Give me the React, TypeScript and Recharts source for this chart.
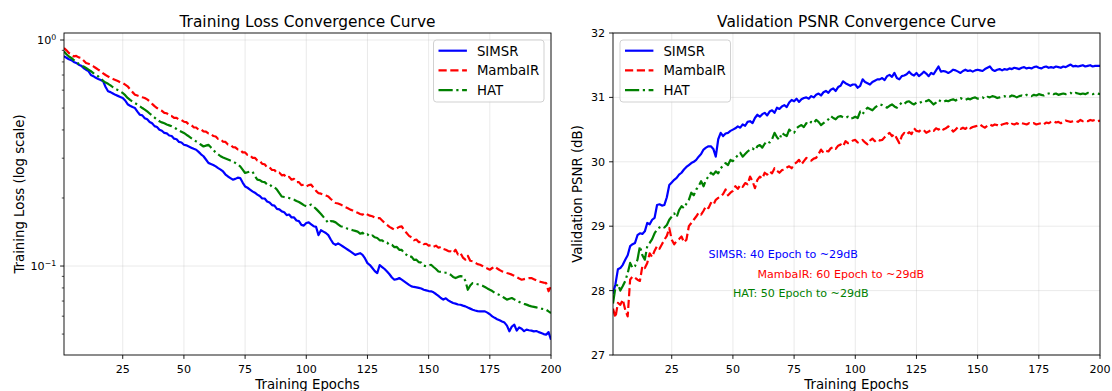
import React from 'react';
import { LineChart, Line, XAxis, YAxis, CartesianGrid, ReferenceDot } from 'recharts';

// ---------------- data ----------------
const epochs: number[] = Array.from({ length: 200 }, (_, i) => i + 1);

const simsrLoss = [
  0.847, 0.835, 0.822, 0.815, 0.800, 0.792, 0.778, 0.770, 0.752, 0.739,
  0.728, 0.700, 0.692, 0.680, 0.672, 0.665, 0.656, 0.620, 0.593, 0.588,
  0.580, 0.572, 0.566, 0.560, 0.554, 0.540, 0.520, 0.512, 0.505, 0.500,
  0.482, 0.467, 0.464, 0.451, 0.446, 0.434, 0.428, 0.416, 0.412, 0.401,
  0.397, 0.388, 0.386, 0.378, 0.376, 0.366, 0.364, 0.354, 0.352, 0.344,
  0.342, 0.338, 0.334, 0.330, 0.327, 0.320, 0.312, 0.306, 0.296, 0.286,
  0.283, 0.280, 0.276, 0.271, 0.267, 0.262, 0.254, 0.249, 0.245, 0.241,
  0.243, 0.246, 0.245, 0.234, 0.225, 0.222, 0.218, 0.214, 0.211, 0.207,
  0.204, 0.199, 0.199, 0.193, 0.191, 0.186, 0.185, 0.179, 0.178, 0.1745,
  0.173, 0.168, 0.169, 0.164, 0.164, 0.159, 0.158, 0.152, 0.151, 0.155,
  0.156, 0.153, 0.150, 0.149, 0.137, 0.144, 0.142, 0.140, 0.137, 0.131,
  0.126, 0.124, 0.126, 0.124, 0.122, 0.120, 0.118, 0.116, 0.114, 0.112,
  0.113, 0.114, 0.112, 0.108, 0.103, 0.101, 0.098, 0.095, 0.093, 0.101,
  0.099, 0.097, 0.0946, 0.092, 0.089, 0.087, 0.0875, 0.0885, 0.087, 0.0855,
  0.084, 0.0825, 0.0813, 0.0808, 0.0805, 0.0800, 0.0795, 0.0785, 0.0780, 0.0775,
  0.0773, 0.0765, 0.0752, 0.0738, 0.0722, 0.0710, 0.0720, 0.0705, 0.0695, 0.0686,
  0.0682, 0.0676, 0.0674, 0.0668, 0.0663, 0.0655, 0.0648, 0.0641, 0.0636, 0.0632,
  0.0630, 0.0631, 0.0630, 0.0622, 0.0612, 0.0599, 0.0590, 0.0582, 0.0575, 0.0568,
  0.0562, 0.0545, 0.0514, 0.0540, 0.0550, 0.0518, 0.0535, 0.0528, 0.0515, 0.0523,
  0.0520, 0.0518, 0.0514, 0.0516, 0.0510, 0.0505, 0.0500, 0.0497, 0.0510, 0.0472,
];

const mambaLoss = [
  0.922, 0.900, 0.876, 0.866, 0.847, 0.850, 0.838, 0.833, 0.812, 0.791,
  0.785, 0.778, 0.765, 0.752, 0.739, 0.728, 0.712, 0.700, 0.690, 0.679,
  0.672, 0.665, 0.658, 0.650, 0.645, 0.635, 0.624, 0.605, 0.588, 0.573,
  0.568, 0.563, 0.558, 0.554, 0.546, 0.535, 0.522, 0.510, 0.500, 0.492,
  0.486, 0.476, 0.474, 0.463, 0.461, 0.452, 0.452, 0.444, 0.443, 0.435,
  0.433, 0.423, 0.421, 0.411, 0.410, 0.401, 0.402, 0.394, 0.393, 0.386,
  0.385, 0.376, 0.374, 0.365, 0.364, 0.355, 0.354, 0.345, 0.344, 0.336,
  0.335, 0.328, 0.327, 0.318, 0.318, 0.310, 0.309, 0.301, 0.301, 0.293,
  0.292, 0.283, 0.282, 0.273, 0.273, 0.266, 0.266, 0.258, 0.259, 0.252,
  0.253, 0.246, 0.248, 0.241, 0.243, 0.235, 0.235, 0.228, 0.229, 0.225,
  0.228, 0.229, 0.222, 0.215, 0.210, 0.209, 0.207, 0.205, 0.203, 0.198,
  0.194, 0.190, 0.189, 0.187, 0.185, 0.182, 0.180, 0.1776, 0.176, 0.174,
  0.172, 0.170, 0.1688, 0.1716, 0.169, 0.167, 0.166, 0.164, 0.163, 0.163,
  0.159, 0.155, 0.152, 0.149, 0.147, 0.1448, 0.147, 0.149, 0.1498, 0.144,
  0.140, 0.136, 0.134, 0.130, 0.131, 0.1275, 0.128, 0.125, 0.1255, 0.123,
  0.124, 0.1218, 0.123, 0.1205, 0.1215, 0.119, 0.118, 0.1165, 0.1162, 0.1142,
  0.118, 0.1125, 0.1142, 0.109, 0.1067, 0.111, 0.1055, 0.1049, 0.1035, 0.102,
  0.1013, 0.100, 0.0985, 0.0975, 0.0963, 0.0980, 0.0997, 0.0975, 0.0960, 0.0947,
  0.0940, 0.0932, 0.0925, 0.0916, 0.0905, 0.0892, 0.0880, 0.0870, 0.0875, 0.0880,
  0.0884, 0.0885, 0.0875, 0.0865, 0.0855, 0.0850, 0.0845, 0.0841, 0.0773, 0.0813,
];

const hatLoss = [
  0.891, 0.865, 0.845, 0.833, 0.815, 0.798, 0.785, 0.775, 0.763, 0.752,
  0.740, 0.728, 0.714, 0.702, 0.690, 0.676, 0.660, 0.648, 0.640, 0.630,
  0.618, 0.608, 0.600, 0.592, 0.583, 0.570, 0.554, 0.543, 0.534, 0.526,
  0.518, 0.509, 0.500, 0.492, 0.483, 0.473, 0.463, 0.454, 0.445, 0.437,
  0.432, 0.428, 0.423, 0.419, 0.415, 0.410, 0.404, 0.398, 0.393, 0.388,
  0.381, 0.375, 0.368, 0.362, 0.356, 0.350, 0.344, 0.338, 0.341, 0.344,
  0.335, 0.326, 0.318, 0.312, 0.306, 0.302, 0.299, 0.296, 0.293, 0.290,
  0.286, 0.281, 0.276, 0.267, 0.258, 0.260, 0.262, 0.262, 0.250, 0.241,
  0.240, 0.236, 0.235, 0.230, 0.230, 0.224, 0.223, 0.218, 0.210, 0.203,
  0.202, 0.201, 0.200, 0.198, 0.1965, 0.194, 0.192, 0.189, 0.186, 0.1837,
  0.185, 0.187, 0.183, 0.179, 0.1745, 0.170, 0.165, 0.160, 0.155, 0.158,
  0.1576, 0.156, 0.153, 0.150, 0.149, 0.148, 0.146, 0.145, 0.144, 0.143,
  0.142, 0.139, 0.1405, 0.137, 0.138, 0.135, 0.1365, 0.134, 0.133, 0.130,
  0.130, 0.127, 0.127, 0.124, 0.124, 0.1212, 0.1215, 0.118, 0.118, 0.114,
  0.112, 0.1095, 0.110, 0.1065, 0.1067, 0.104, 0.1035, 0.1005, 0.0997, 0.1005,
  0.1013, 0.099, 0.097, 0.0946, 0.0942, 0.0938, 0.0934, 0.0930, 0.0915, 0.0895,
  0.0885, 0.0895, 0.0902, 0.0900, 0.0860, 0.0785, 0.0820, 0.0841, 0.0836, 0.0831,
  0.0826, 0.0818, 0.0808, 0.0796, 0.0785, 0.0775, 0.0762, 0.0752, 0.0745, 0.0734,
  0.0722, 0.0710, 0.0716, 0.0722, 0.0712, 0.0702, 0.0694, 0.0686, 0.0680, 0.0675,
  0.0668, 0.0663, 0.0660, 0.0656, 0.0652, 0.0648, 0.0645, 0.0641, 0.0630, 0.0620,
];

const simsrPsnr = [
  27.95, 28.10, 28.33, 28.35, 28.40, 28.48, 28.55, 28.69, 28.72, 28.74,
  28.86, 28.89, 28.88, 28.92, 29.05, 29.03, 29.10, 29.13, 29.33, 29.34,
  29.32, 29.33, 29.45, 29.64, 29.68, 29.72, 29.75, 29.80, 29.83, 29.88,
  29.92, 29.95, 29.98, 30.00, 30.03, 30.08, 30.12, 30.19, 30.22, 30.24,
  30.24, 30.20, 30.08, 30.35, 30.45, 30.40, 30.44, 30.45, 30.48, 30.50,
  30.52, 30.55, 30.53, 30.58, 30.56, 30.62, 30.63, 30.60, 30.68, 30.73,
  30.70, 30.74, 30.76, 30.72, 30.78, 30.80, 30.76, 30.84, 30.82, 30.86,
  30.88, 30.85, 30.92, 30.96, 30.94, 30.98, 30.93, 30.97, 30.99, 31.00,
  30.98, 31.02, 31.00, 31.04, 31.06, 31.03, 31.08, 31.10, 31.07, 31.12,
  31.14, 31.10, 31.16, 31.18, 31.25, 31.22, 31.20, 31.18, 31.20, 31.20,
  31.15, 31.18, 31.28, 31.24, 31.22, 31.20, 31.24, 31.26, 31.28, 31.28,
  31.30, 31.27, 31.33, 31.35, 31.32, 31.38, 31.30, 31.28, 31.33, 31.34,
  31.36, 31.40, 31.36, 31.34, 31.38, 31.33, 31.36, 31.40, 31.37, 31.33,
  31.38, 31.36, 31.42, 31.48, 31.40, 31.41, 31.40, 31.38, 31.40, 31.43,
  31.42, 31.40, 31.38, 31.41, 31.43, 31.41, 31.42, 31.40, 31.42, 31.43,
  31.42, 31.41, 31.44, 31.46, 31.48, 31.43, 31.41, 31.43, 31.44, 31.42,
  31.44, 31.43, 31.45, 31.44, 31.46, 31.45, 31.44, 31.46, 31.47, 31.45,
  31.46, 31.45, 31.47, 31.48, 31.46, 31.45, 31.47, 31.48, 31.46, 31.47,
  31.46, 31.48, 31.47, 31.46, 31.48, 31.47, 31.49, 31.51, 31.48, 31.49,
  31.48, 31.49, 31.50, 31.48, 31.49, 31.50, 31.48, 31.49, 31.49, 31.49,
];

const mambaPsnr = [
  27.72, 27.58, 27.81, 27.78, 27.86, 27.70, 27.60, 28.17, 28.22, 28.20,
  28.17, 28.15, 28.38, 28.35, 28.43, 28.58, 28.52, 28.62, 28.69, 28.65,
  28.72, 28.79, 28.85, 28.97, 28.79, 28.72, 28.77, 28.80, 28.84, 28.75,
  28.79, 29.00, 29.05, 29.10, 29.15, 29.21, 29.18, 29.24, 29.31, 29.28,
  29.36, 29.33, 29.41, 29.44, 29.46, 29.50, 29.57, 29.48, 29.52, 29.55,
  29.62, 29.58, 29.64, 29.61, 29.67, 29.65, 29.77, 29.70, 29.59, 29.72,
  29.77, 29.74, 29.83, 29.80, 29.85, 29.82, 29.90, 29.86, 29.83, 29.87,
  29.88, 29.91, 29.93, 29.90, 29.96, 29.99, 30.03, 29.96, 30.01, 30.06,
  30.04, 30.02, 30.05, 30.06, 30.12, 30.19, 30.14, 30.17, 30.16, 30.21,
  30.23, 30.20, 30.25, 30.27, 30.24, 30.32, 30.29, 30.30, 30.33, 30.34,
  30.30, 30.32, 30.34, 30.30, 30.27, 30.33, 30.36, 30.32, 30.35, 30.33,
  30.34, 30.38, 30.42, 30.45, 30.40, 30.43, 30.36, 30.29, 30.40, 30.45,
  30.42, 30.46, 30.43, 30.52, 30.48, 30.47, 30.50, 30.49, 30.45, 30.47,
  30.50, 30.48, 30.52, 30.50, 30.53, 30.50, 30.52, 30.55, 30.52, 30.47,
  30.50, 30.54, 30.51, 30.53, 30.51, 30.55, 30.52, 30.54, 30.55, 30.56,
  30.58, 30.55, 30.53, 30.56, 30.58, 30.56, 30.58, 30.57, 30.55, 30.58,
  30.59, 30.60, 30.57, 30.59, 30.58, 30.60, 30.58, 30.60, 30.59, 30.58,
  30.60, 30.59, 30.60, 30.58, 30.59, 30.60, 30.58, 30.61, 30.60, 30.62,
  30.63, 30.61, 30.62, 30.60, 30.62, 30.64, 30.63, 30.62, 30.63, 30.64,
  30.62, 30.65, 30.63, 30.64, 30.63, 30.65, 30.64, 30.65, 30.63, 30.64,
];

const hatPsnr = [
  27.80, 28.05, 28.10, 28.00, 28.07, 28.15, 28.27, 28.43, 28.35, 28.38,
  28.48, 28.69, 28.55, 28.48, 28.69, 28.74, 28.80, 28.89, 28.95, 28.98,
  29.00, 28.98, 29.02, 29.10, 29.15, 29.20, 29.14, 29.25, 29.31, 29.28,
  29.35, 29.41, 29.52, 29.48, 29.57, 29.62, 29.70, 29.62, 29.72, 29.77,
  29.83, 29.80, 29.85, 29.82, 29.90, 29.94, 29.98, 29.95, 30.03, 30.01,
  30.06, 30.10, 30.14, 30.08, 30.12, 30.16, 30.19, 30.21, 30.18, 30.24,
  30.26, 30.22, 30.28, 30.32, 30.30, 30.35, 30.45, 30.38, 30.34, 30.45,
  30.42, 30.40, 30.50, 30.46, 30.45, 30.52, 30.55, 30.57, 30.54, 30.60,
  30.58, 30.62, 30.60, 30.65, 30.62, 30.57, 30.60, 30.63, 30.66, 30.71,
  30.68, 30.66, 30.70, 30.71, 30.69, 30.68, 30.70, 30.67, 30.68, 30.70,
  30.68, 30.78, 30.74, 30.80, 30.84, 30.82, 30.80, 30.84, 30.87, 30.89,
  30.88, 30.86, 30.84, 30.87, 30.89, 30.86, 30.84, 30.88, 30.92, 30.90,
  30.93, 30.94, 30.91, 30.89, 30.92, 30.91, 30.93, 30.95, 30.94, 30.96,
  30.93, 30.89, 30.92, 30.96, 30.94, 30.93, 30.95, 30.94, 30.96, 30.97,
  30.95, 30.98, 30.99, 30.97, 30.96, 30.98, 30.97, 30.99, 31.00, 30.98,
  30.99, 31.00, 30.98, 31.01, 31.00, 31.02, 31.01, 30.99, 31.00, 31.01,
  31.02, 31.00, 31.01, 31.03, 31.02, 31.00, 31.02, 31.03, 31.02, 31.04,
  31.03, 31.02, 31.04, 31.03, 31.05, 31.04, 31.03, 31.05, 31.06, 31.07,
  31.05, 31.06, 31.04, 31.05, 31.06, 31.05, 31.06, 31.07, 31.05, 31.07,
  31.06, 31.05, 31.06, 31.05, 31.07, 31.06, 31.05, 31.06, 31.06, 31.05,
];

const epochTicks = [25, 50, 75, 100, 125, 150, 175, 200];
const epochGrid = [25, 50, 75, 100, 125, 150, 175, 200];
const lossTicks = [0.05, 0.06, 0.07, 0.08, 0.09, 0.1, 0.2, 0.3, 0.4, 0.5, 0.6, 0.7, 0.8, 0.9, 1];
const lossGrid = [0.1, 1];
const psnrTicks = [27, 28, 29, 30, 31, 32];

const annotations = [
  { epoch: 40, psnr: 28.5, text: 'SIMSR: 40 Epoch to ~29dB', color: '#0000ff' },
  { epoch: 60, psnr: 28.2, text: 'MambaIR: 60 Epoch to ~29dB', color: '#ff0000' },
  { epoch: 50, psnr: 27.9, text: 'HAT: 50 Epoch to ~29dB', color: '#008000' },
];

// ---------------- styles ----------------
const FONT = '"DejaVu Sans", Verdana, sans-serif';
const SERIES = [
  { key: 'SIMSR', color: '#0000ff', dash: undefined as string | undefined },
  { key: 'MambaIR', color: '#ff0000', dash: '8.2 3.6' },
  { key: 'HAT', color: '#008000', dash: '14.2 3.6 2.2 3.6' },
];
const W = 1112;
const H = 391;
const PLOT_TOP = 33;
const PLOT_BOTTOM = 355;
const L = { left: 64, right: 551 };
const R = { left: 613, right: 1100 };
const LEFT_CHART_W = 572;
const TICK = 3.9;
const TICK_FS = 11.1;
const LABEL_FS = 13.3;
const TITLE_FS = 15.4;

function XTick(props: any) {
  const { x, y, payload } = props;
  return (
    <g>
      <line x1={x} x2={x} y1={y} y2={y + TICK} stroke="#000" strokeWidth={0.9} />
      <text x={x} y={y + 17.7} textAnchor="middle" fontSize={TICK_FS} fontFamily={FONT} fill="#000">
        {payload.value}
      </text>
    </g>
  );
}

function LogYTick(props: any) {
  const { x, y, payload } = props;
  const v = payload.value as number;
  const exp = Math.log10(v);
  const major = Math.abs(exp - Math.round(exp)) < 1e-6;
  const e = Math.round(exp);
  return (
    <g>
      <line x1={x} x2={x - (major ? TICK : 2.2)} y1={y} y2={y} stroke="#000" strokeWidth={major ? 0.9 : 0.7} />
      {major && (
        <text x={x - 7.8} y={y + 4.3} textAnchor="end" fontSize={TICK_FS} fontFamily={FONT} fill="#000">
          10
          <tspan dy={-4} fontSize={7.8}>{e < 0 ? '\u2212' + Math.abs(e) : String(e)}</tspan>
        </text>
      )}
    </g>
  );
}

function YTick(props: any) {
  const { x, y, payload } = props;
  return (
    <g>
      <line x1={x} x2={x - TICK} y1={y} y2={y} stroke="#000" strokeWidth={0.9} />
      <text x={x - 7.8} y={y + 4} textAnchor="end" fontSize={TICK_FS} fontFamily={FONT} fill="#000">
        {payload.value}
      </text>
    </g>
  );
}

function Legend({ x, y }: { x: number; y: number }) {
  const rows = SERIES.map((s, i) => ({ ...s, cy: y + 10.7 + i * 19.7 }));
  return (
    <g>
      <rect x={x} y={y} width={110.5} height={62} rx={3} fill="#fff" fillOpacity={0.8} stroke="#cccccc" strokeWidth={0.9} />
      {rows.map((r) => (
        <g key={r.key}>
          <line x1={x + 5} x2={x + 33.4} y1={r.cy} y2={r.cy} stroke={r.color} strokeWidth={2.2} strokeDasharray={r.dash} />
          <text x={x + 43.4} y={r.cy + 4.8} fontSize={LABEL_FS} fontFamily={FONT} fill="#000">
            {r.key}
          </text>
        </g>
      ))}
    </g>
  );
}

function AnnLabel(color: string, text: string) {
  return (p: any) => {
    const vb = p.viewBox || {};
    return (
      <text x={vb.x} y={vb.y} textAnchor="start" fontSize={TICK_FS} fontFamily={FONT} fill={color}>
        {text}
      </text>
    );
  };
}

export default function App() {
  const lossData = epochs.map((epoch, i) => ({ epoch, SIMSR: simsrLoss[i], MambaIR: mambaLoss[i], HAT: hatLoss[i] }));
  const psnrData = epochs.map((epoch, i) => ({ epoch, SIMSR: simsrPsnr[i], MambaIR: mambaPsnr[i], HAT: hatPsnr[i] }));
  const lines = SERIES.map((s) => (
    <Line
      key={s.key}
      type="linear"
      dataKey={s.key}
      name={s.key}
      stroke={s.color}
      strokeWidth={2.2}
      strokeDasharray={s.dash}
      strokeLinejoin="round"
      dot={false}
      activeDot={false}
      isAnimationActive={false}
    />
  ));
  return (
    <div style={{ position: 'absolute', left: 0, top: 0, width: W, height: H, background: '#fff', overflow: 'hidden' }}>
      <style>{'body{margin:0}'}</style>
      <div style={{ position: 'absolute', left: 556, top: 0 }}>
        <LineChart width={556} height={H} data={psnrData} margin={{ top: PLOT_TOP, right: W - R.right, bottom: 0, left: 0 }}>
          <CartesianGrid stroke="#b0b0b0" strokeOpacity={0.3} strokeWidth={0.9} horizontalValues={psnrTicks} verticalValues={epochGrid} />
          <XAxis
            dataKey="epoch"
            type="number"
            domain={[1, 200]}
            ticks={epochTicks}
            interval={0}
            height={H - PLOT_BOTTOM}
            tickSize={0}
            tickMargin={0}
            tickLine={false}
            axisLine={false}
            tick={XTick}
            allowDataOverflow
          />
          <YAxis
            type="number"
            domain={[27, 32]}
            ticks={psnrTicks}
            interval={0}
            width={R.left - 556}
            tickSize={0}
            tickMargin={0}
            tickLine={false}
            axisLine={false}
            tick={YTick}
            allowDataOverflow
          />
          {lines}
          {annotations.map((a) => (
            <ReferenceDot
              key={a.text}
              x={a.epoch}
              y={a.psnr}
              r={0}
              fill="none"
              stroke="none"
              label={AnnLabel(a.color, a.text)}
            />
          ))}
        </LineChart>
      </div>
      <div style={{ position: 'absolute', left: 0, top: 0 }}>
        <LineChart width={LEFT_CHART_W} height={H} data={lossData} margin={{ top: PLOT_TOP, right: LEFT_CHART_W - L.right, bottom: 0, left: 0 }}>
          <CartesianGrid stroke="#b0b0b0" strokeOpacity={0.3} strokeWidth={0.9} horizontalValues={lossGrid} verticalValues={epochGrid} />
          <XAxis
            dataKey="epoch"
            type="number"
            domain={[1, 200]}
            ticks={epochTicks}
            interval={0}
            height={H - PLOT_BOTTOM}
            tickSize={0}
            tickMargin={0}
            tickLine={false}
            axisLine={false}
            tick={XTick}
            allowDataOverflow
          />
          <YAxis
            type="number"
            scale="log"
            domain={[0.0404, 1.074]}
            ticks={lossTicks}
            interval={0}
            width={L.left}
            tickSize={0}
            tickMargin={0}
            tickLine={false}
            axisLine={false}
            tick={LogYTick}
            allowDataOverflow
          />
          {lines}
        </LineChart>
      </div>
      <svg width={W} height={H} style={{ position: 'absolute', left: 0, top: 0, pointerEvents: 'none' }}>
        <rect x={L.left} y={PLOT_TOP} width={L.right - L.left} height={PLOT_BOTTOM - PLOT_TOP} fill="none" stroke="#000" strokeWidth={0.9} />
        <rect x={R.left} y={PLOT_TOP} width={R.right - R.left} height={PLOT_BOTTOM - PLOT_TOP} fill="none" stroke="#000" strokeWidth={0.9} />
        <text x={(L.left + L.right) / 2} y={27.3} textAnchor="middle" fontSize={TITLE_FS} fontFamily={FONT} fill="#000">
          Training Loss Convergence Curve
        </text>
        <text x={(R.left + R.right) / 2} y={27.3} textAnchor="middle" fontSize={TITLE_FS} fontFamily={FONT} fill="#000">
          Validation PSNR Convergence Curve
        </text>
        <text x={(L.left + L.right) / 2} y={389} textAnchor="middle" fontSize={LABEL_FS} fontFamily={FONT} fill="#000">
          Training Epochs
        </text>
        <text x={(R.left + R.right) / 2} y={389} textAnchor="middle" fontSize={LABEL_FS} fontFamily={FONT} fill="#000">
          Training Epochs
        </text>
        <text
          x={24}
          y={(PLOT_TOP + PLOT_BOTTOM) / 2}
          transform={`rotate(-90, 24, ${(PLOT_TOP + PLOT_BOTTOM) / 2})`}
          textAnchor="middle"
          fontSize={LABEL_FS}
          fontFamily={FONT}
          fill="#000"
        >
          Training Loss (log scale)
        </text>
        <text
          x={582}
          y={(PLOT_TOP + PLOT_BOTTOM) / 2}
          transform={`rotate(-90, 582, ${(PLOT_TOP + PLOT_BOTTOM) / 2})`}
          textAnchor="middle"
          fontSize={LABEL_FS}
          fontFamily={FONT}
          fill="#000"
        >
          Validation PSNR (dB)
        </text>
        <Legend x={433.5} y={40} />
        <Legend x={620} y={40} />
      </svg>
    </div>
  );
}
